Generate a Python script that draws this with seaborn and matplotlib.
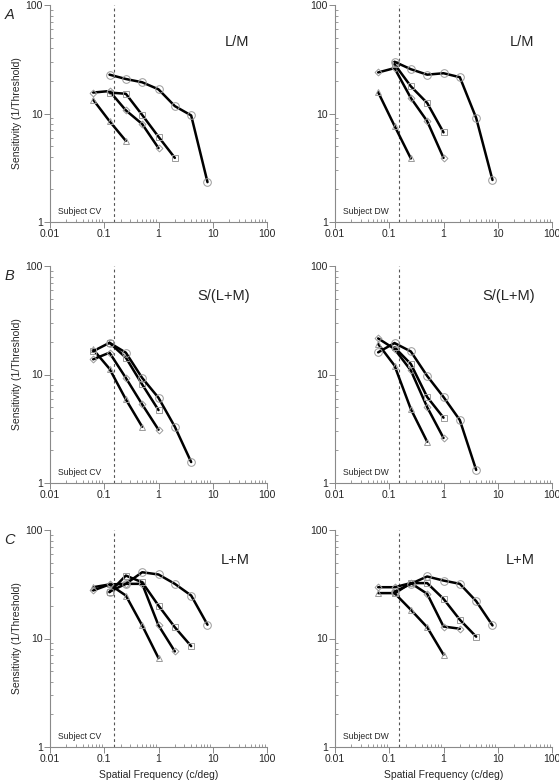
import numpy as np
import pandas as pd
import seaborn as sns
import matplotlib.pyplot as plt
from matplotlib.ticker import LogLocator, FuncFormatter, NullFormatter

nan = np.nan

# spatial frequencies (c/deg) shared by all curves
freq = [0.0625, 0.125, 0.25, 0.5, 1, 2, 4, 8]

# L/M, subject CV
lm_cv_tri = [13.4, 8.5, 5.6, nan, nan, nan, nan, nan]
lm_cv_dia = [15.6, 16.1, 10.7, 8.0, 4.8, nan, nan, nan]
lm_cv_sq = [nan, 15.6, 15.2, 9.7, 6.1, 3.9, nan, nan]
lm_cv_circ = [nan, 22.8, 20.8, 19.4, 16.7, 11.7, 9.6, 2.33]
# L/M, subject DW
lm_dw_tri = [15.7, 7.7, 3.85, nan, nan, nan, nan, nan]
lm_dw_dia = [23.9, 26.2, 13.9, 8.5, 3.9, nan, nan, nan]
lm_dw_sq = [nan, 28.5, 17.8, 12.5, 6.7, nan, nan, nan]
lm_dw_circ = [nan, 30.0, 25.6, 22.8, 23.5, 21.6, 9.1, 2.44]
# S/(L+M), subject CV
s_cv_tri = [17.0, 11.3, 5.9, 3.3, nan, nan, nan, nan]
s_cv_dia = [13.8, 15.9, 9.3, 5.3, 3.1, nan, nan, nan]
s_cv_sq = [16.4, 19.6, 14.3, 8.1, 4.7, nan, nan, nan]
s_cv_circ = [nan, 19.6, 15.9, 9.3, 6.1, 3.3, 1.56, nan]
# S/(L+M), subject DW
s_dw_tri = [19.1, 12.1, 4.8, 2.4, nan, nan, nan, nan]
s_dw_dia = [21.5, 17.2, 10.9, 5.0, 2.6, nan, nan, nan]
s_dw_sq = [nan, 17.8, 12.5, 6.2, 4.0, nan, nan, nan]
s_dw_circ = [16.0, 19.5, 16.3, 9.7, 6.2, 3.8, 1.32, nan]
# L+M, subject CV
lum_cv_tri = [29.7, 31.5, 24.9, 13.2, 6.6, nan, nan, nan]
lum_cv_dia = [27.7, 31.5, 31.9, 31.9, 13.2, 7.6, nan, nan]
lum_cv_sq = [nan, 26.7, 38.0, 33.0, 20.1, 12.7, 8.5, nan]
lum_cv_circ = [nan, 27.0, 31.9, 40.8, 38.9, 31.9, 24.9, 13.4]
# L+M, subject DW
lum_dw_tri = [26.2, 26.2, 18.4, 12.7, 7.1, nan, nan, nan]
lum_dw_dia = [29.7, 29.7, 32.4, 25.8, 12.9, 12.3, nan, nan]
lum_dw_sq = [nan, 26.0, 32.4, 32.4, 23.2, 14.9, 10.4, nan]
lum_dw_circ = [nan, 27.0, 31.9, 37.3, 34.2, 31.9, 22.1, 13.2]

conditions = ['L/M', 'S/(L+M)', 'L+M']
subjects = ['CV', 'DW']
row_letters = ['A', 'B', 'C']
panels = {
    ('L/M', 'CV'): [lm_cv_tri, lm_cv_dia, lm_cv_sq, lm_cv_circ],
    ('L/M', 'DW'): [lm_dw_tri, lm_dw_dia, lm_dw_sq, lm_dw_circ],
    ('S/(L+M)', 'CV'): [s_cv_tri, s_cv_dia, s_cv_sq, s_cv_circ],
    ('S/(L+M)', 'DW'): [s_dw_tri, s_dw_dia, s_dw_sq, s_dw_circ],
    ('L+M', 'CV'): [lum_cv_tri, lum_cv_dia, lum_cv_sq, lum_cv_circ],
    ('L+M', 'DW'): [lum_dw_tri, lum_dw_dia, lum_dw_sq, lum_dw_circ],
}
markers = ['^', 'D', 's', 'o']
msizes = [5, 3.5, 5, 5.5]
cutoff = 0.15

sns.set_style('ticks')
plt.rcParams['font.family'] = ['Liberation Sans', 'DejaVu Sans']

fig = plt.figure(figsize=(5.59, 7.82), dpi=100)
W, H = 559, 782
col_x = [50, 335]
row_top = [5, 266, 530]
aw, ah = 217, 217
label_y = [0.83, 0.86, 0.86]
grey = '#8a8a8a'
fmt = FuncFormatter(lambda v, _: f'{v:g}')

for r, cond in enumerate(conditions):
    for c, subj in enumerate(subjects):
        ax = fig.add_axes([col_x[c] / W, 1 - (row_top[r] + ah) / H, aw / W, ah / H])
        ax.set_xscale('log')
        ax.set_yscale('log')
        ax.axvline(cutoff, color='#555555', lw=0.8, ls=(0, (2.5, 2.5)), zorder=1)
        for vals, m, ms in zip(panels[(cond, subj)], markers, msizes):
            d = pd.DataFrame({'freq': freq, 'sens': vals}).dropna()
            sns.lineplot(data=d, x='freq', y='sens', ax=ax, color='black', lw=1.8,
                         marker=m, markersize=ms, markerfacecolor='none',
                         markeredgecolor='#9a9a9a', markeredgewidth=0.7, legend=False)
        ax.set_xlim(0.01, 100)
        ax.set_ylim(1, 100)
        ax.xaxis.set_major_locator(LogLocator(base=10, numticks=10))
        ax.xaxis.set_minor_locator(LogLocator(base=10, subs=np.arange(2, 10), numticks=10))
        ax.yaxis.set_minor_locator(LogLocator(base=10, subs=np.arange(2, 10), numticks=10))
        ax.xaxis.set_major_formatter(fmt)
        ax.yaxis.set_major_formatter(fmt)
        ax.xaxis.set_minor_formatter(NullFormatter())
        ax.yaxis.set_minor_formatter(NullFormatter())
        ax.tick_params(which='major', direction='out', length=4, width=0.7,
                       color=grey, labelsize=7.5, pad=1)
        ax.tick_params(which='minor', direction='in', length=2.5, width=0.6, color=grey)
        for s in ['left', 'bottom']:
            ax.spines[s].set_color(grey)
            ax.spines[s].set_linewidth(0.8)
        sns.despine(ax=ax)
        ax.set_xlabel('')
        ax.set_ylabel('')
        if c == 0:
            ax.set_ylabel('Sensitivity (1/Threshold)', fontsize=7.5)
            ax.yaxis.set_label_coords(-0.13, 0.5)
        if r == 2:
            ax.set_xlabel('Spatial Frequency (c/deg)', fontsize=7.5)
            ax.xaxis.set_label_coords(0.5, -0.105)
        ax.text(0.92, label_y[r], cond, transform=ax.transAxes, ha='right',
                va='center', fontsize=10.5)
        ax.text(0.035, 0.05, f'Subject {subj}', transform=ax.transAxes,
                ha='left', va='center', fontsize=6.2)
    fig.text(0.008, 1 - (row_top[r] + 10) / H, row_letters[r], fontsize=10.5,
             style='italic', ha='left', va='center')

fig.savefig('out.png', dpi=100)
